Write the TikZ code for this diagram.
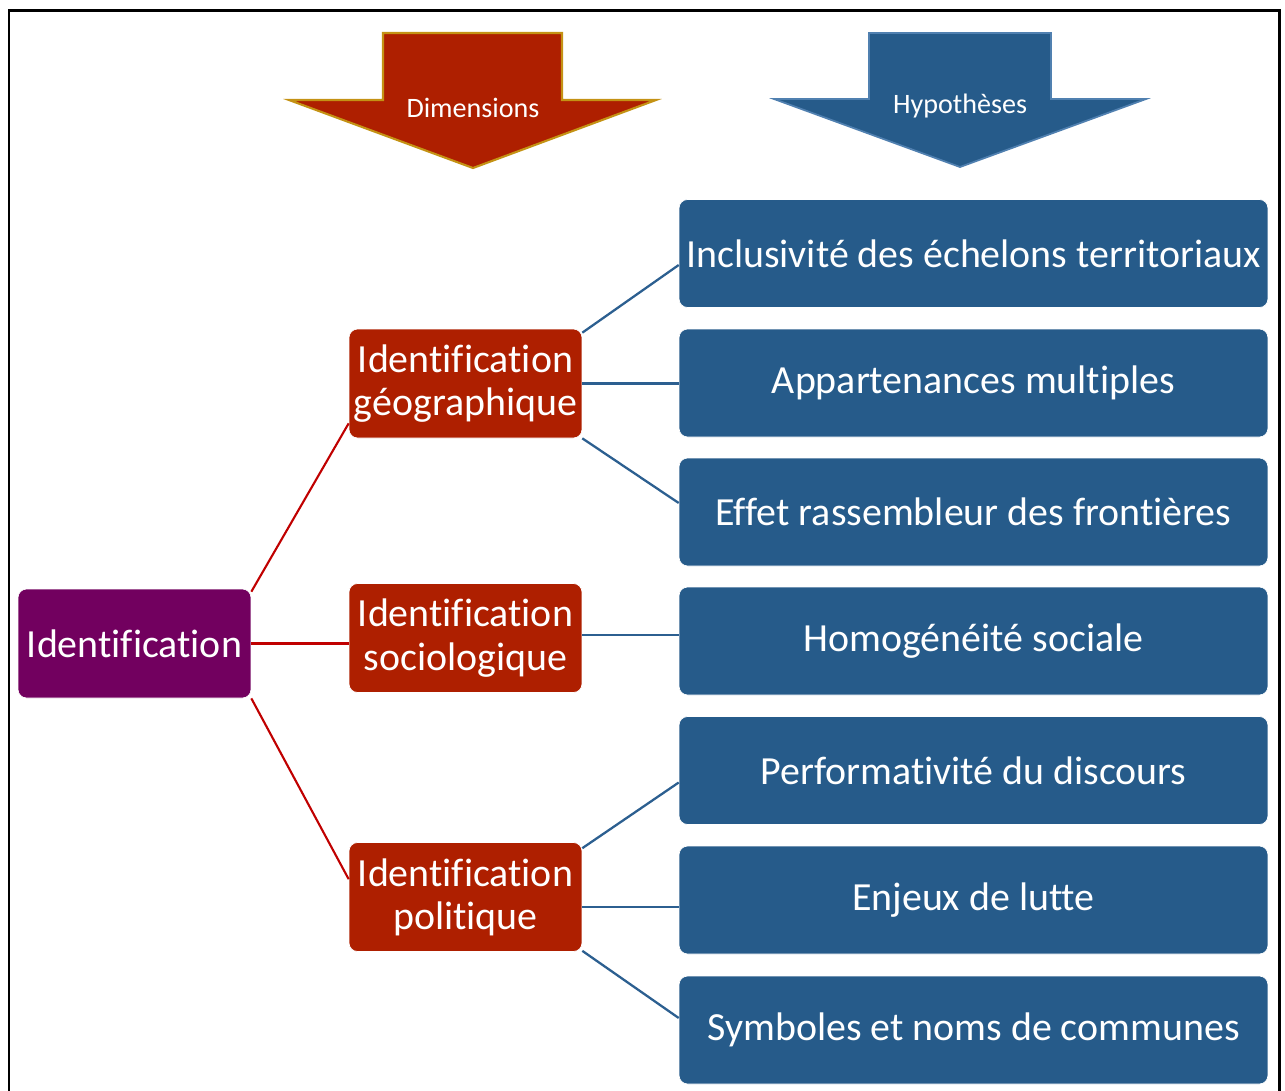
\documentclass[tikz,border=0pt]{standalone}
\usepackage{fontspec}
\setmainfont{Carlito}[Ligatures=NoCommon]
\usepackage{tikz}
\usetikzlibrary{positioning,calc}

\definecolor{idpurple}{RGB}{114,0,95}
\definecolor{dimred}{RGB}{174,31,0}
\definecolor{hypblue}{RGB}{38,91,138}
\definecolor{dimline}{RGB}{192,0,0}
\definecolor{hypline}{RGB}{44,95,144}
\definecolor{dimgold}{RGB}{196,146,20}
\definecolor{hypedge}{RGB}{80,128,176}

\begin{document}
\begin{tikzpicture}[x=0.02cm,y=-0.02cm,
    box/.style={rounded corners=0.17cm, draw=white, line width=0.4pt, text=white,
        align=center, inner sep=0pt, font=\fontsize{22.7}{24.6}\selectfont},
    rootbox/.style={box, fill=idpurple, minimum width=4.66cm, minimum height=2.18cm},
    dimbox/.style={box, fill=dimred, minimum width=4.66cm, minimum height=2.18cm},
    hypbox/.style={box, fill=hypblue, minimum width=11.78cm, minimum height=2.16cm},
    redlink/.style={draw=dimline, line width=1.2pt},
    bluelink/.style={draw=hypline, line width=1.3pt},
    arrowtext/.style={text=white, font=\fontsize{16}{18}\selectfont}]
    \useasboundingbox (0,0) rectangle (1285,1090);
    % frame
    \draw[line width=1.7pt] (9,1100) |- (1279,10) -- (1279,1100);

    % column headers
    \draw[fill=dimred, draw=dimgold, line width=1.2pt]
        (383,33) -- (562,33) -- (562,100) -- (656,100) -- (473,168)
        -- (289,100) -- (383,100) -- cycle;
    \node[arrowtext] (dimlabel) at (473,108) {Dimensions};
    \draw[fill=hypblue, draw=hypedge, line width=1pt]
        (869,33) -- (1051,33) -- (1051,99) -- (1146,99) -- (960,167)
        -- (774,99) -- (869,99) -- cycle;
    \node[arrowtext] (hyplabel) at (960,106) {Hypothèses};

    % root and dimensions
    \node[rootbox] (ident) at (134.5,643.5) {Identification};
    \node[dimbox] (geo) at (465.5,383.5) {Identification\\géographique};
    \node[dimbox] (socio) at (465.5,638) {Identification\\sociologique};
    \node[dimbox] (polit) at (465.5,897) {Identification\\politique};

    % hypotheses
    \node[hypbox] (incl) at (973.5,253.5) {Inclusivité des échelons territoriaux};
    \node[hypbox] (appart) at (973.5,383) {Appartenances multiples};
    \node[hypbox] (effet) at (973.5,512) {Effet rassembleur des frontières};
    \node[hypbox] (homo) at (973.5,641) {Homogénéité sociale};
    \node[hypbox] (perf) at (973.5,770.5) {Performativité du discours};
    \node[hypbox] (enjeux) at (973.5,900) {Enjeux de lutte};
    \node[hypbox] (symb) at (973.5,1030) {Symboles et noms de communes};

    % links
    \draw[redlink] ([yshift=-0.06cm]ident.north east) -- ([yshift=0.3cm]geo.south west);
    \draw[redlink] (ident.east) -- (ident.east -| socio.west);
    \draw[redlink] (ident.south east) -- ([yshift=-0.74cm]polit.north west);

    \draw[bluelink] ([yshift=-0.08cm]geo.north east) -- ([yshift=-0.23cm]incl.west);
    \draw[bluelink] (geo.east) -- (geo.east -| appart.west);
    \draw[bluelink] (geo.south east) -- ([yshift=0.18cm]effet.west);
    \draw[bluelink] ([yshift=0.06cm]socio.east) -- ([yshift=0.06cm]socio.east -| homo.west);
    \draw[bluelink] ([yshift=-0.12cm]polit.north east) -- ([yshift=-0.24cm]perf.west);
    \draw[bluelink] ([yshift=-0.2cm]polit.east) -- ([yshift=-0.2cm]polit.east -| enjeux.west);
    \draw[bluelink] ([yshift=0.02cm]polit.south east) -- ([yshift=0.24cm]symb.west);
\end{tikzpicture}
\end{document}
